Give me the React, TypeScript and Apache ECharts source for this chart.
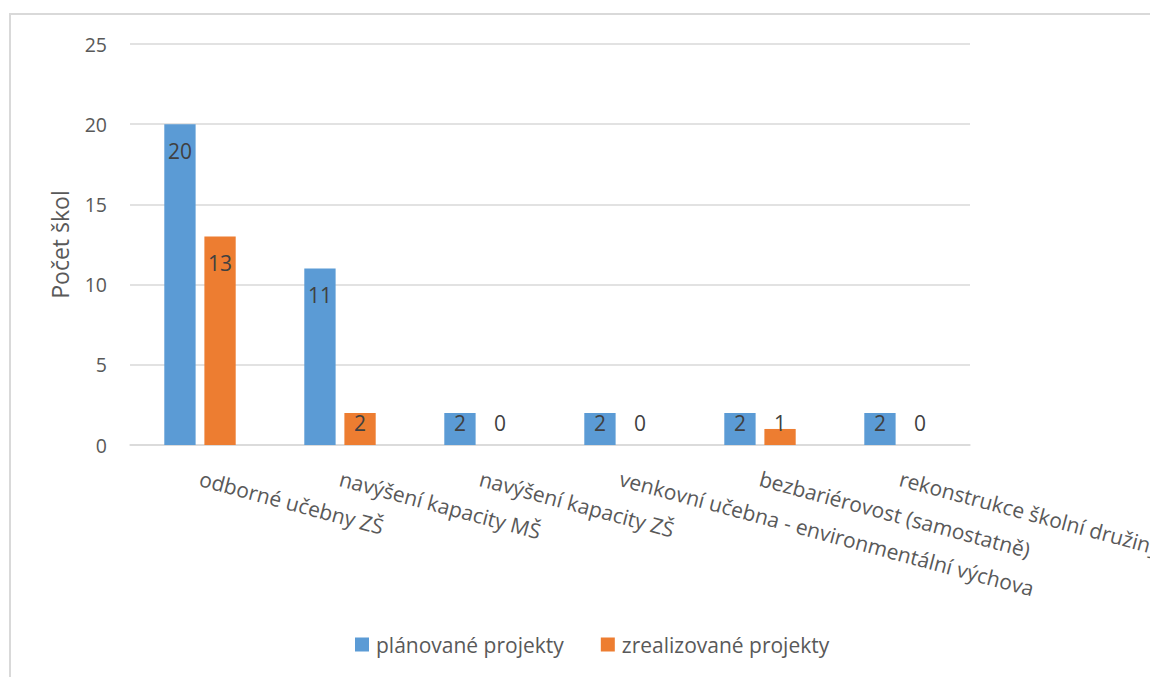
import React, { useEffect, useRef } from "react";
import * as echarts from "echarts";

const categories = [
  "odborné učebny ZŠ",
  "navýšení kapacity MŠ",
  "navýšení kapacity ZŠ",
  "venkovní učebna - environmentální výchova",
  "bezbariérovost (samostatně)",
  "rekonstrukce školní družiny",
];
const planned = [20, 11, 2, 2, 2, 2];
const realized = [13, 2, 0, 0, 1, 0];
const seriesNames = ["plánované projekty", "zrealizované projekty"];
const yTicks = { min: 0, max: 25, interval: 5 };

const FONT = "'Open Sans', sans-serif";
const TXT = "#595959";

function toData(values: number[]) {
  return values.map((v) => ({
    value: v,
    label:
      v >= 4
        ? { position: "insideTop", distance: 16 }
        : { position: "insideBottom", distance: 12 },
  }));
}

export default function App() {
  const ref = useRef<HTMLDivElement>(null);
  useEffect(() => {
    if (!ref.current) return;
    const chart = echarts.init(ref.current, undefined, { renderer: "svg" });
    const labelStyle = {
      show: true,
      color: "#404040",
      fontFamily: FONT,
      fontSize: 21,
    };
    chart.setOption({
      animation: false,
      backgroundColor: "#ffffff",
      textStyle: { fontFamily: FONT },
      graphic: [
        {
          type: "rect",
          shape: { x: 10, y: 14, width: 1300, height: 800 },
          style: { fill: "none", stroke: "#d9d9d9", lineWidth: 2 },
          silent: true,
        },
      ],
      grid: {
        left: 130,
        right: 180,
        top: 44,
        bottom: 232,
        containLabel: false,
        outerBoundsMode: "none",
      },
      legend: {
        left: 355,
        top: 634,
        padding: 0,
        icon: "rect",
        itemWidth: 14,
        itemHeight: 14,
        itemGap: 37,
        textStyle: {
          color: TXT,
          fontSize: 21,
          fontFamily: FONT,
          padding: [0, 0, 0, 2],
        },
        data: seriesNames,
      },
      xAxis: {
        type: "category",
        data: categories,
        axisLine: { lineStyle: { color: "#d9d9d9", width: 1.5 } },
        axisTick: { show: false },
        axisLabel: {
          interval: 0,
          rotate: -15,
          margin: 33,
          color: TXT,
          fontSize: 21,
          fontFamily: FONT,
          hideOverlap: false,
        },
      },
      yAxis: {
        type: "value",
        min: yTicks.min,
        max: yTicks.max,
        interval: yTicks.interval,
        name: "Počet škol",
        nameLocation: "middle",
        nameGap: 59,
        nameTextStyle: { color: TXT, fontSize: 23, fontFamily: FONT },
        axisLine: { show: false },
        axisTick: { show: false },
        axisLabel: { color: TXT, fontSize: 19.5, fontFamily: FONT, margin: 23 },
        splitLine: { lineStyle: { color: "#d9d9d9", width: 1.5 } },
      },
      series: [
        {
          name: seriesNames[0],
          type: "bar",
          data: toData(planned),
          itemStyle: { color: "#5B9BD5" },
          barGap: "28%",
          barCategoryGap: "49%",
          label: labelStyle,
        },
        {
          name: seriesNames[1],
          type: "bar",
          data: toData(realized),
          itemStyle: { color: "#ED7D31" },
          barGap: "28%",
          barCategoryGap: "49%",
          label: labelStyle,
        },
      ],
    });
    return () => chart.dispose();
  }, []);
  return (
    <div
      ref={ref}
      style={{ position: "fixed", left: 0, top: 0, width: 1150, height: 677 }}
    />
  );
}
